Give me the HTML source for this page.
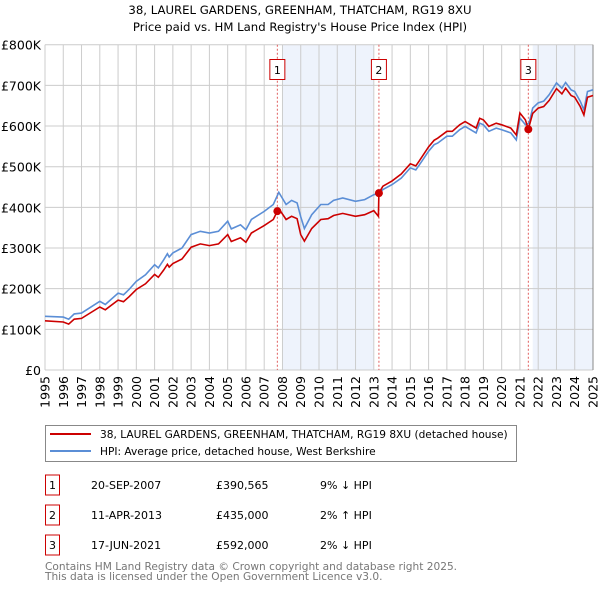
<!DOCTYPE html>
<html><head><meta charset="utf-8">
<style>
body{margin:0;background:#fff;font-family:"Liberation Sans","DejaVu Sans",sans-serif;}
#wrap{position:relative;width:600px;height:590px;overflow:hidden;}
svg text{font-family:"DejaVu Sans","Liberation Sans",sans-serif;}
</style></head>
<body>
<div id="wrap">
<svg id="chart" width="600" height="590"></svg>
</div>
<script>
const hpiYears=[1995,1996,1996.3,1996.6,1997,1998,1998.3,1999,1999.3,1999.6,2000,2000.5,2001,2001.2,2001.5,2001.7,2001.8,2002,2002.5,2003,2003.5,2004,2004.5,2005,2005.2,2005.7,2006,2006.3,2007,2007.5,2007.8,2008.2,2008.5,2008.8,2009.0,2009.2,2009.6,2010.1,2010.5,2010.8,2011.3,2012,2012.5,2013,2013.3,2013.5,2014,2014.5,2015,2015.3,2015.5,2016,2016.3,2016.5,2017,2017.3,2017.7,2018,2018.3,2018.6,2018.8,2019,2019.3,2019.7,2020,2020.5,2020.8,2021,2021.3,2021.5,2021.7,2022,2022.3,2022.6,2023,2023.3,2023.5,2023.8,2024,2024.3,2024.5,2024.7,2025];
const hpiValues=[132,130,125,138,140,169,161,189,185,198,218,234,259,251,271,286,278,288,300,333,341,337,341,366,347,357,345,370,390,407,437,407,417,411,377,348,382,407,407,417,423,415,419,431,435,444,456,472,497,492,505,538,554,558,575,575,591,599,591,583,607,603,587,595,591,583,566,620,603,607,644,657,661,677,706,693,707,689,685,661,640,685,689];
const priceYears=[1995,1996,1996.3,1996.6,1997,1998,1998.3,1999,1999.3,1999.6,2000,2000.5,2001,2001.2,2001.5,2001.7,2001.8,2002,2002.5,2003,2003.5,2004,2004.5,2005,2005.2,2005.7,2006,2006.3,2007,2007.5,2007.72,2007.8,2008.2,2008.5,2008.8,2009.0,2009.2,2009.6,2010.1,2010.5,2010.8,2011.3,2012,2012.5,2013,2013.25,2013.28,2013.5,2014,2014.5,2015,2015.3,2015.5,2016,2016.3,2016.5,2017,2017.3,2017.7,2018,2018.3,2018.6,2018.8,2019,2019.3,2019.7,2020,2020.5,2020.8,2021,2021.3,2021.46,2021.7,2022,2022.3,2022.6,2023,2023.3,2023.5,2023.8,2024,2024.3,2024.5,2024.7,2025];
const priceValues=[121,118,113,125,127,155,148,172,168,180,198,212,235,228,246,260,253,262,273,302,310,306,310,333,316,325,314,337,355,370,391,397,370,378,372,333,317,348,370,372,380,385,378,382,392,378,435,452,465,482,507,502,515,549,565,570,587,587,603,611,603,595,619,615,599,607,603,595,578,632,615,592,631,644,648,663,692,679,693,675,671,648,627,671,675];
const saleLabels=["1","2","3"];
const saleYears=[2007.72,2013.28,2021.46];
const saleValues=[390.565,435,592];
const yTicks=[0,100,200,300,400,500,600,700,800];
const yTickLabels=["£0","£100K","£200K","£300K","£400K","£500K","£600K","£700K","£800K"];
const xTicks=[1995,1996,1997,1998,1999,2000,2001,2002,2003,2004,2005,2006,2007,2008,2009,2010,2011,2012,2013,2014,2015,2016,2017,2018,2019,2020,2021,2022,2023,2024,2025];
const shadeStarts=[2008.0,2021.7];
const shadeEnds=[2013.0,2025];

const L=45,R=593,T=44.7,B=370;
const X=y=>L+(y-1995)/30*(R-L);
const Y=v=>B-v/800*(B-T);
const NS="http://www.w3.org/2000/svg";
const svg=document.getElementById('chart');
function mk(tag,attrs,parent){const e=document.createElementNS(NS,tag);for(const k in attrs)e.setAttribute(k,attrs[k]);(parent||svg).appendChild(e);return e;}

const title1=mk('text',{x:300,y:14,'text-anchor':'middle','font-size':11.7,fill:'#000'});


title1.textContent="38, LAUREL GARDENS, GREENHAM, THATCHAM, RG19 8XU";
const title2=mk('text',{x:300,y:31,'text-anchor':'middle','font-size':11.7,fill:'#000'});


title2.textContent="Price paid vs. HM Land Registry's House Price Index (HPI)";

shadeStarts.forEach((s,i)=>{
  const r=mk('rect',{x:X(s),y:T,width:X(shadeEnds[i])-X(s),height:B-T,fill:'#eef3fc'});
  
  
});
yTicks.forEach((v,i)=>{
  const l=mk('line',{x1:L,x2:R,y1:Y(v),y2:Y(v),stroke:'#cccccc','stroke-width':1});
  
  
  const t=mk('text',{x:L-4,y:Y(v)+5,'text-anchor':'end','font-size':12.5,fill:'#000'});
  
  
  t.textContent=yTickLabels[i];
});
xTicks.forEach(yr=>{
  const l=mk('line',{x1:X(yr),x2:X(yr),y1:T,y2:B,stroke:'#cccccc','stroke-width':1});
  
  
  const t=mk('text',{x:0,y:0,'text-anchor':'end','font-size':12.5,fill:'#000',transform:`translate(${X(yr)+4.5},${B+6}) rotate(-90)`});
  
  
  t.textContent=String(yr);
});
const rb=mk('line',{x1:R,x2:R,y1:T,y2:B,stroke:'#888','stroke-width':1});



saleYears.forEach((yr,i)=>{
  const l=mk('line',{x1:X(yr),x2:X(yr),y1:T,y2:B,stroke:'#e06060','stroke-width':1,'stroke-dasharray':'2,2'});
  
  
  const r=mk('rect',{x:X(yr)-7.5,y:59.5,width:15,height:20,fill:'#fff',stroke:'#cc0000','stroke-width':1});
  
  
  const t=mk('text',{x:X(yr),y:74,'text-anchor':'middle','font-size':11,fill:'#000'});
  
  
  t.textContent=saleLabels[i];
});

function pathFor(xs,vs){return xs.map((x,i)=>(i?'L':'M')+X(x).toFixed(1)+','+Y(vs[i]).toFixed(1)).join(' ');}
const hp=mk('path',{d:pathFor(hpiYears,hpiValues),fill:'none',stroke:'#5b8ed6','stroke-width':1.6});


const pp=mk('path',{d:pathFor(priceYears,priceValues),fill:'none',stroke:'#cc0000','stroke-width':1.6});


saleYears.forEach((yr,i)=>{
  const c=mk('circle',{cx:X(yr),cy:Y(saleValues[i]),r:4,fill:'#cc0000'});
  
  
});

// legend
const lg=mk('rect',{x:45.5,y:425.5,width:471,height:36,fill:'#fff',stroke:'#888','stroke-width':1});


const l1=mk('line',{x1:50,x2:91,y1:434,y2:434,stroke:'#cc0000','stroke-width':2});


const lt1=mk('text',{x:100,y:438,'font-size':10.6,fill:'#000'});


lt1.textContent="38, LAUREL GARDENS, GREENHAM, THATCHAM, RG19 8XU (detached house)";
const l2=mk('line',{x1:50,x2:91,y1:451,y2:451,stroke:'#5b8ed6','stroke-width':2});


const lt2=mk('text',{x:100,y:455,'font-size':10.6,fill:'#000'});


lt2.textContent="HPI: Average price, detached house, West Berkshire";

const rowDates=["20-SEP-2007","11-APR-2013","17-JUN-2021"];
const rowPrices=["£390,565","£435,000","£592,000"];
const rowHpi=["9% ↓ HPI","2% ↑ HPI","2% ↓ HPI"];
rowDates.forEach((d,i)=>{
  const cy=485+i*30;
  const b=mk('rect',{x:45.5,y:cy-10,width:14,height:20,fill:'#fff',stroke:'#cc0000','stroke-width':1});
  
  
  const n=mk('text',{x:52.5,y:cy+4,'text-anchor':'middle','font-size':11,fill:'#000'});
  
  
  n.textContent=saleLabels[i];
  const t1=mk('text',{x:91,y:cy+4,'font-size':11,fill:'#000'});
  
  
  t1.textContent=d;
  const t2=mk('text',{x:216,y:cy+4,'font-size':11,fill:'#000'});
  
  
  t2.textContent=rowPrices[i];
  const t3=mk('text',{x:320,y:cy+4,'font-size':11,fill:'#000'});
  
  
  t3.textContent=rowHpi[i];
});
const f1=mk('text',{x:45,y:570,'font-size':10.6,fill:'#777'});


f1.textContent="Contains HM Land Registry data © Crown copyright and database right 2025.";
const f2=mk('text',{x:45,y:580,'font-size':10.6,fill:'#777'});


f2.textContent="This data is licensed under the Open Government Licence v3.0.";
</script>
</body></html>
